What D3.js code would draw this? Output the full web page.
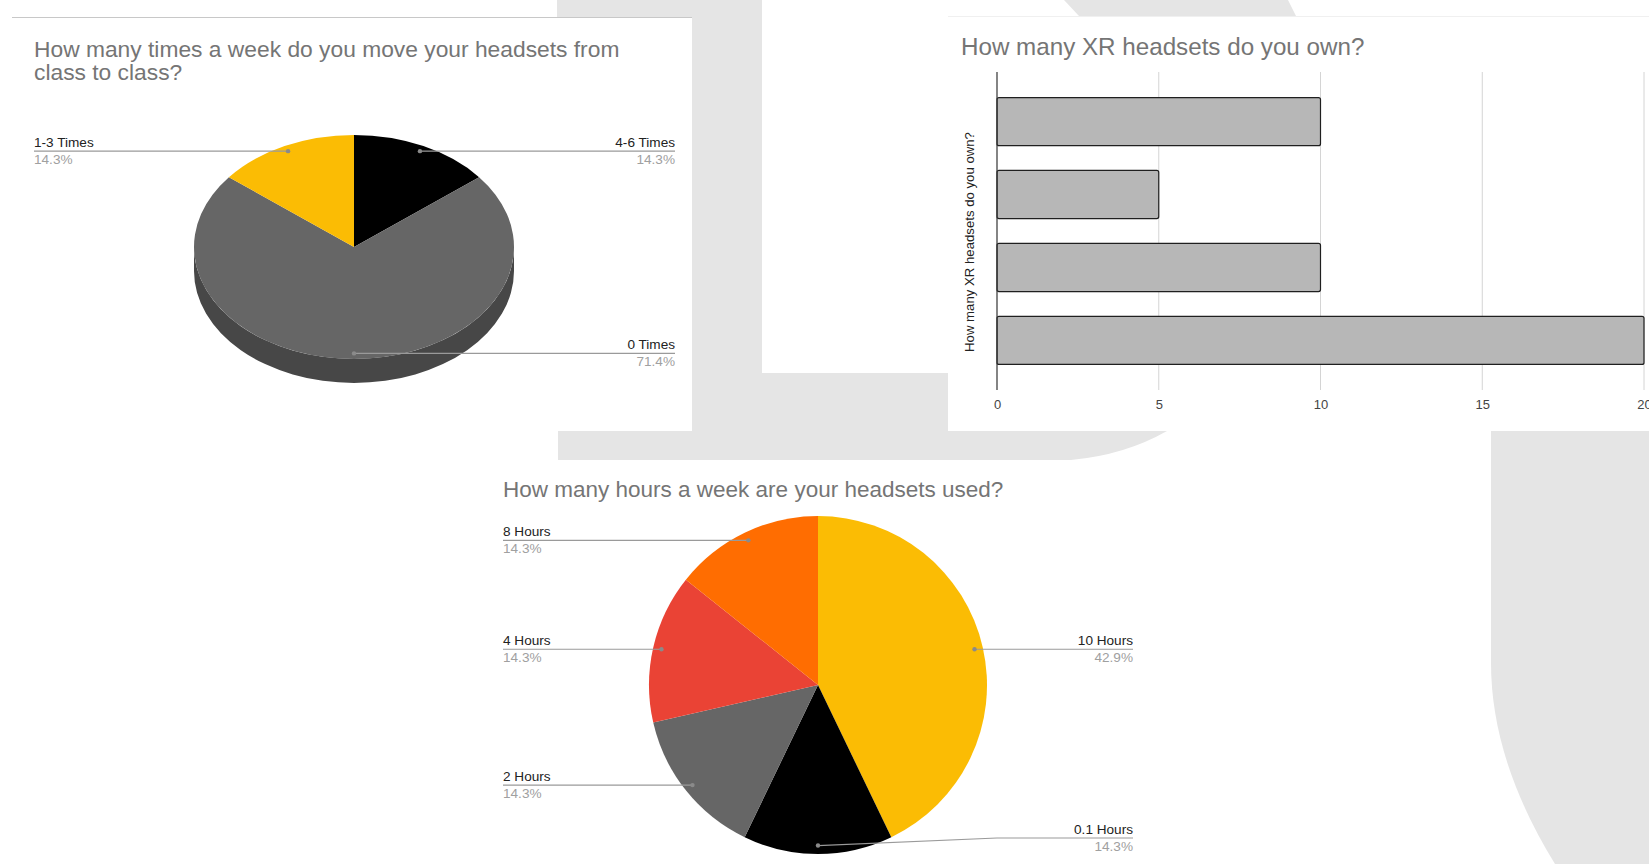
<!DOCTYPE html>
<html><head><meta charset="utf-8">
<script src="https://cdn.jsdelivr.net/npm/d3@7"></script>
<style>
html,body{margin:0;padding:0;background:#fff;overflow:hidden}
svg{display:block}
text{font-family:"Liberation Sans",Arial,sans-serif}
</style></head><body>
<svg id="c" width="1649" height="864"></svg>
<script>
// ---------- data ----------
// Chart 1: 3D pie
const moveCategories = ["4-6 Times", "0 Times", "1-3 Times"];
const moveValues = [1, 5, 1];
const moveColors = ["#000000", "#666666", "#fbbc04"];
const moveTitle = ["How many times a week do you move your headsets from", "class to class?"];

// Chart 2: horizontal bars
const ownCategories = ["Response 1", "Response 2", "Response 3", "Response 4"];
const ownValues = [10, 5, 10, 20];
const ownTicks = [0, 5, 10, 15, 20];
const ownTitle = "How many XR headsets do you own?";
const ownAxisTitle = "How many XR headsets do you own?";

// Chart 3: pie
const hoursCategories = ["10 Hours", "0.1 Hours", "2 Hours", "4 Hours", "8 Hours"];
const hoursValues = [3, 1, 1, 1, 1];
const hoursColors = ["#fbbc04", "#000000", "#666666", "#ea4335", "#ff6d01"];
const hoursTitle = "How many hours a week are your headsets used?";

// ---------- setup ----------
const svg = d3.select("#c");
const pct = d3.format(".1%");
const GRAY_BG = "#e5e5e5";

// background watermark shapes
const bg = svg.append("g");
bg.append("rect").attr("x", 557).attr("y", 0).attr("width", 205).attr("height", 431).attr("fill", GRAY_BG);
bg.append("rect").attr("x", 760).attr("y", 373).attr("width", 190).attr("height", 58).attr("fill", GRAY_BG);
bg.append("path").attr("d", "M558,431 H1167 Q1125,455 1071,460 H558 Z").attr("fill", GRAY_BG);
bg.append("path").attr("d", "M1064,0 H1288 L1296,16 H1079 Z").attr("fill", GRAY_BG);
bg.append("path").attr("d", "M1491,431 H1649 V864 H1555 Q1491,760 1491,663 Z").attr("fill", GRAY_BG);

// panels
svg.append("rect").attr("x", 0).attr("y", 17).attr("width", 692).attr("height", 414).attr("fill", "#fff");
svg.append("line").attr("x1", 12).attr("x2", 692).attr("y1", 17.5).attr("y2", 17.5).attr("stroke", "#c8c8c8");
svg.append("rect").attr("x", 948).attr("y", 16).attr("width", 701).attr("height", 415).attr("fill", "#fff");
svg.append("line").attr("x1", 948).attr("x2", 1649).attr("y1", 16.5).attr("y2", 16.5).attr("stroke", "#f0f0f0");

// ---------- helpers ----------
function drawLabels(g, arcs, cats, o) {
  arcs.forEach((a, i) => {
    const m = (a.startAngle + a.endAngle) / 2;
    const px = o.cx + 0.95 * o.rx * Math.sin(m);
    const py = o.cy - 0.95 * o.ry * Math.cos(m);
    const right = m <= Math.PI + 1e-6;
    const endX = right ? o.rightX : o.leftX;
    const ly = Math.min(py, o.maxY);
    const pts = [[px, py]];
    if (ly !== py) pts.push([o.bendX, ly]);
    pts.push([endX, ly]);
    g.append("path").attr("d", d3.line()(pts)).attr("fill", "none")
      .attr("stroke", "#9a9a9a").attr("stroke-width", 1.2);
    g.append("circle").attr("cx", px).attr("cy", py).attr("r", 2.2).attr("fill", "#8a8a8a");
    g.append("text").attr("x", endX).attr("y", ly - 4.5)
      .attr("text-anchor", right ? "end" : "start")
      .attr("font-size", 13.6).attr("fill", "#222").text(cats[i]);
    g.append("text").attr("x", endX).attr("y", ly + 12.8)
      .attr("text-anchor", right ? "end" : "start")
      .attr("font-size", 13.6).attr("fill", "#a0a0a0").text(pct(a.value / o.total));
  });
}

// ---------- chart 1: 3D pie ----------
{
  const g = svg.append("g");
  g.selectAll("text.t").data(moveTitle).join("text")
    .attr("x", 34).attr("y", (d, i) => 57 + i * 22.5)
    .attr("font-size", 22.8).attr("fill", "#757575").text(d => d);

  const cx = 354, cy = 247, rx = 160, ry = 112, depth = 24;
  const data = moveValues.map((v, i) => ({ v, c: moveColors[i] }));
  const arcs = d3.pie().sort(null).value(d => d.v)(data);
  const total = d3.sum(moveValues);
  const P = (a, dy) => [cx + rx * Math.sin(a), cy - ry * Math.cos(a) + dy];

  // side walls (front half only)
  arcs.forEach(a => {
    const s = Math.max(a.startAngle, Math.PI / 2), e = Math.min(a.endAngle, 3 * Math.PI / 2);
    if (e <= s) return;
    const p1 = P(s, 0), p2 = P(e, 0), p3 = P(e, depth), p4 = P(s, depth);
    const large = (e - s) > Math.PI ? 1 : 0;
    const d = `M${p1} A${rx},${ry} 0 ${large} 1 ${p2} L${p3} A${rx},${ry} 0 ${large} 0 ${p4} Z`;
    g.append("path").attr("d", d).attr("fill", d3.rgb(a.data.c).darker(1));
  });
  // top faces
  const top = g.append("g").attr("transform", `translate(${cx},${cy}) scale(1,${ry / rx})`);
  top.selectAll("path").data(arcs).join("path")
    .attr("d", d3.arc().innerRadius(0).outerRadius(rx))
    .attr("fill", d => d.data.c);

  drawLabels(g, arcs, moveCategories, { cx, cy, rx, ry, leftX: 34, rightX: 675, maxY: 1e9, bendX: 0, total });
}

// ---------- chart 2: bar chart ----------
{
  const g = svg.append("g");
  g.append("text").attr("x", 961).attr("y", 55).attr("font-size", 24.2)
    .attr("fill", "#757575").text(ownTitle);

  const x = d3.scaleLinear().domain([0, 20]).range([997, 1644]);
  const y = d3.scaleBand().domain(ownCategories).range([72, 390]).paddingInner(0.34).paddingOuter(0.35);
  const y0 = 72, y1 = 390;

  g.selectAll("line.grid").data(ownTicks.filter(t => t !== 0)).join("line")
    .attr("x1", d => x(d)).attr("x2", d => x(d)).attr("y1", y0).attr("y2", y1)
    .attr("stroke", "#d4d4d4").attr("stroke-width", 1);

  g.selectAll("rect.bar").data(ownValues).join("rect")
    .attr("x", x(0)).attr("y", (d, i) => y(ownCategories[i]))
    .attr("width", d => x(d) - x(0)).attr("height", y.bandwidth())
    .attr("rx", 2).attr("fill", "#b7b7b7").attr("stroke", "#1f1f1f").attr("stroke-width", 1.2);

  g.append("line").attr("x1", x(0)).attr("x2", x(0)).attr("y1", y0).attr("y2", y1)
    .attr("stroke", "#333").attr("stroke-width", 1.2);

  const ax = g.append("g").attr("transform", `translate(0,${y1})`)
    .call(d3.axisBottom(x).tickValues(ownTicks).tickSize(0).tickPadding(9.5));
  ax.select(".domain").remove();
  ax.selectAll("text").attr("font-size", 13).attr("fill", "#444")
    .attr("font-family", "\"Liberation Sans\",Arial,sans-serif");

  g.append("text").attr("transform", `translate(974,${(y0 + y1) / 2 + 11}) rotate(-90)`)
    .attr("text-anchor", "middle").attr("font-size", 13.2).attr("fill", "#222").text(ownAxisTitle);
}

// ---------- chart 3: pie ----------
{
  const g = svg.append("g");
  g.append("text").attr("x", 503).attr("y", 497).attr("font-size", 22.5)
    .attr("fill", "#757575").text(hoursTitle);
  const cx = 818, cy = 685, r = 169;
  const data = hoursValues.map((v, i) => ({ v, c: hoursColors[i] }));
  const arcs = d3.pie().sort(null).value(d => d.v)(data);
  const total = d3.sum(hoursValues);
  g.append("g").attr("transform", `translate(${cx},${cy})`)
    .selectAll("path").data(arcs).join("path")
    .attr("d", d3.arc().innerRadius(0).outerRadius(r))
    .attr("fill", d => d.data.c);
  drawLabels(g, arcs, hoursCategories, { cx, cy, rx: r, ry: r, leftX: 503, rightX: 1133, maxY: cy + r - 16, bendX: cx + r + 10, total });
}
</script>
</body></html>
